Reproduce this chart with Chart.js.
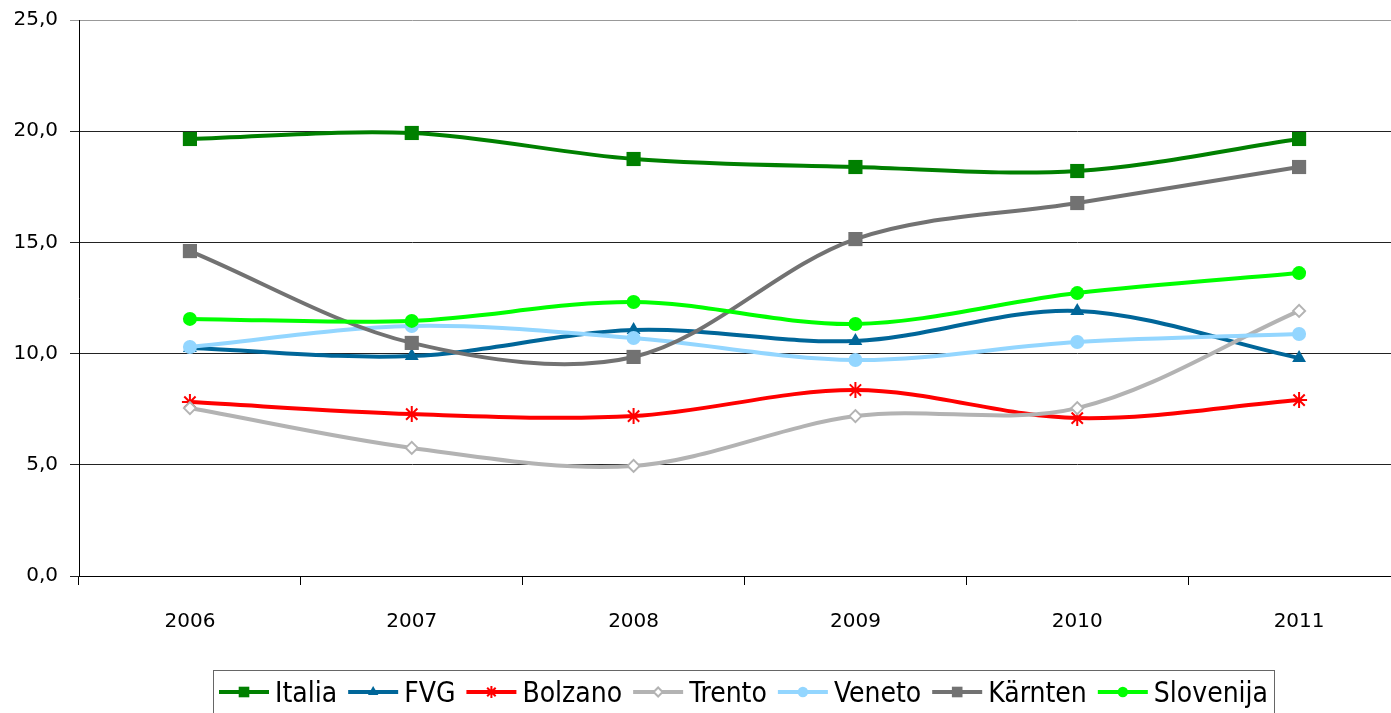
<!DOCTYPE html>
<html>
<head>
<meta charset="utf-8">
<script src="https://cdn.jsdelivr.net/npm/chart.js@4.4.0/dist/chart.umd.min.js"></script>
<style>
  html, body { margin: 0; padding: 0; background: #fff; overflow: hidden; }
  #wrap { width: 1391px; height: 713px; overflow: hidden; position: relative; }
  canvas { display: block; }
</style>
</head>
<body>
<div id="wrap"><canvas id="chart" width="1488" height="713"></canvas></div>
<script>
const years = ['2006', '2007', '2008', '2009', '2010', '2011'];
const italia    = [19.65, 19.92, 18.75, 18.39, 18.21, 19.65];
const fvg       = [10.25, 9.89, 11.06, 10.57, 11.92, 9.80];
const bolzano   = [7.82, 7.28, 7.19, 8.36, 7.10, 7.91];
const trento    = [7.55, 5.76, 4.95, 7.19, 7.55, 11.92];
const veneto    = [10.30, 11.24, 10.70, 9.71, 10.52, 10.88];
const karnten   = [14.61, 10.48, 9.85, 15.15, 16.77, 18.39];
const slovenija = [11.56, 11.47, 12.32, 11.33, 12.72, 13.62];
const yTicks = [0, 5, 10, 15, 20, 25];

function series(label, data, color, style, radius, fill, border, idx) {
  return {
    label: label,
    data: data,
    borderColor: color,
    backgroundColor: fill,
    pointBackgroundColor: fill,
    pointBorderColor: color,
    pointStyle: style,
    pointRadius: radius,
    pointHoverRadius: radius,
    pointBorderWidth: border,
    borderWidth: 4,
    tension: 0.33,
    order: 6 - idx // later series drawn on top, like the original
  };
}

const datasets = [
  series('Italia', italia, '#008000', 'rect', 10, '#008000', 0, 0),
  series('FVG', fvg, '#006699', 'triangle', 8, '#006699', 0, 1),
  series('Bolzano', bolzano, '#ff0000', 'star', 8, '#ff0000', 2, 2),
  series('Trento', trento, '#b3b3b3', 'rectRot', 6, '#ffffff', 2, 3),
  series('Veneto', veneto, '#93d6ff', 'circle', 7, '#93d6ff', 0, 4),
  series('Kärnten', karnten, '#727272', 'rect', 10, '#727272', 0, 5),
  series('Slovenija', slovenija, '#00ff00', 'circle', 7, '#00ff00', 0, 6)
];

// legend drawn by hand: a line with the marker on it, inside a box
const lineLegend = {
  id: 'lineLegend',
  afterDraw(chart) {
    const ctx = chart.ctx;
    ctx.save();
    ctx.font = '28px "DejaVu Sans Condensed", "DejaVu Sans"';
    const sample = 50, gap = 6, spacing = 11, pad = 6;
    const items = chart.data.datasets.map(ds => ({ ds: ds, w: sample + gap + ctx.measureText(ds.label).width }));
    const total = items.reduce((s, it) => s + it.w, 0) + spacing * (items.length - 1) + pad * 2;
    let x = Math.round((chart.width - total) / 2);
    const top = 670, cy = 692;
    ctx.strokeStyle = '#666';
    ctx.lineWidth = 1;
    ctx.strokeRect(x + 0.5, top + 0.5, Math.round(total), 60);
    x += pad;
    items.forEach(it => {
      const ds = it.ds;
      ctx.strokeStyle = ds.borderColor;
      ctx.lineWidth = 4;
      ctx.beginPath();
      ctx.moveTo(x, cy);
      ctx.lineTo(x + sample, cy);
      ctx.stroke();
      ctx.fillStyle = ds.pointBackgroundColor;
      ctx.strokeStyle = ds.pointBorderColor;
      ctx.lineWidth = ds.pointBorderWidth;
      Chart.helpers.drawPoint(ctx, {
        pointStyle: ds.pointStyle,
        rotation: 0,
        radius: ds.pointRadius * 0.75,
        borderWidth: ds.pointBorderWidth
      }, x + sample / 2, cy);
      ctx.fillStyle = '#000';
      ctx.textBaseline = 'alphabetic';
      ctx.textAlign = 'left';
      ctx.fillText(ds.label, x + sample + gap, cy + 10);
      x += it.w + spacing;
    });
    ctx.restore();
  }
};

new Chart(document.getElementById('chart'), {
  type: 'line',
  data: { labels: years, datasets: datasets },
  options: {
    responsive: false,
    devicePixelRatio: 1,
    animation: false,
    events: [],
    layout: { padding: { top: 20, right: 78, bottom: 77, left: 0 } },
    plugins: {
      legend: { display: false },
      tooltip: { enabled: false }
    },
    scales: {
      x: {
        offset: true,
        grid: {
          offset: true,
          drawOnChartArea: false,
          tickLength: 9,
          color: '#000'
        },
        border: { color: '#000', width: 1 },
        ticks: {
          padding: 25,
          color: '#000',
          maxRotation: 0,
          font: { family: '"DejaVu Sans"', size: 20 }
        },
        afterFit(scale) {
          scale.height = 60;
          scale.paddingLeft = 0;
          scale.paddingRight = 0;
        }
      },
      y: {
        min: 0,
        max: 25,
        afterBuildTicks(scale) { scale.ticks = yTicks.map(v => ({ value: v })); },
        grid: {
          tickLength: 9,
          color: ctx => (ctx.tick && ctx.tick.value === 25 ? '#999' : '#222')
        },
        border: { color: '#000', width: 1 },
        ticks: {
          padding: 12,
          color: '#000',
          font: { family: '"DejaVu Sans"', size: 20 },
          callback: v => v.toFixed(1).replace('.', ',')
        },
        afterFit(scale) {
          scale.width = 79;
          scale.paddingTop = 0;
          scale.paddingBottom = 0;
        }
      }
    }
  },
  plugins: [lineLegend]
});
</script>
</body>
</html>
